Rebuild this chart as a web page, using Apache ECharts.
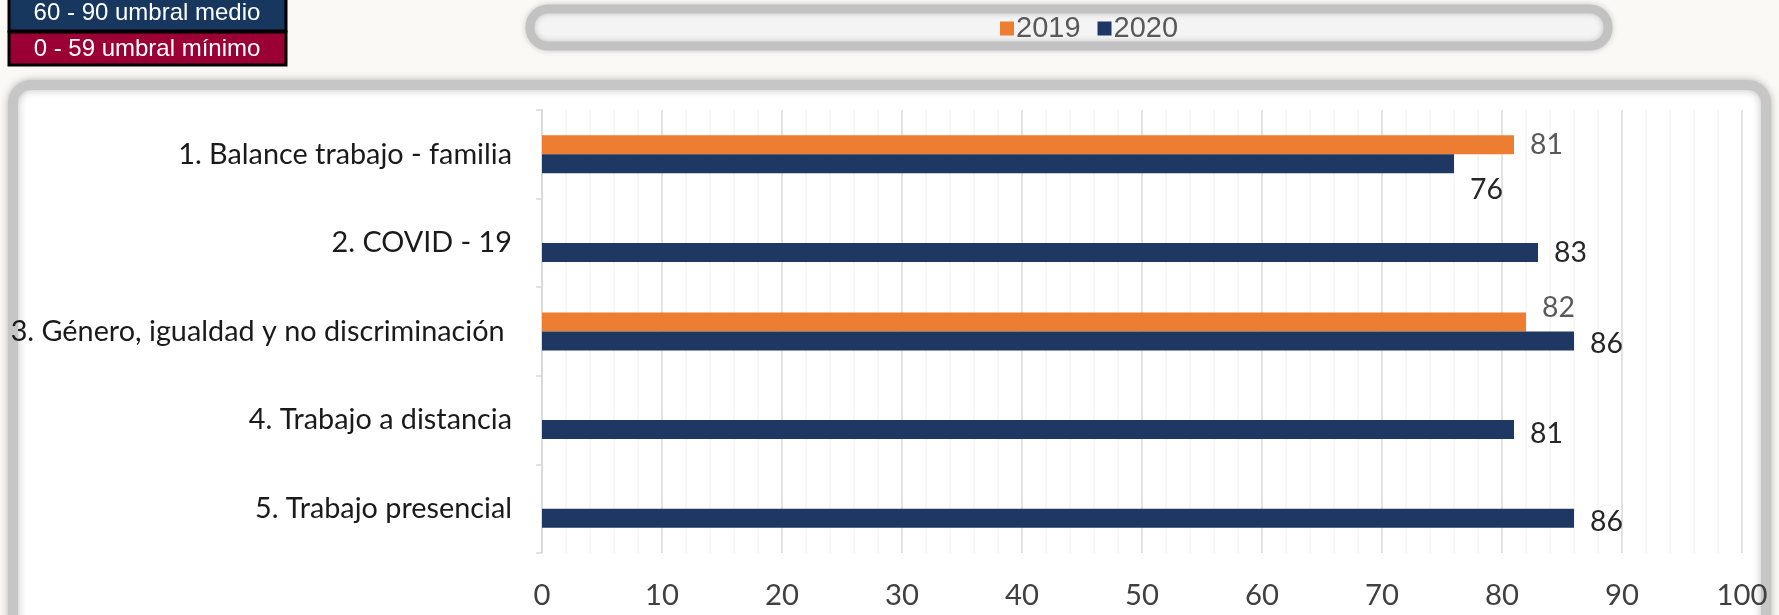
<!DOCTYPE html>
<html>
<head>
<meta charset="utf-8">
<script src="https://cdn.jsdelivr.net/npm/echarts@6/dist/echarts.min.js"></script>
<style>
  html, body { margin: 0; padding: 0; background: #fbf9f5; }
  #chart { width: 1779px; height: 615px; }
</style>
</head>
<body>
<div id="chart"></div>
<script>
// ---- data ----
const categories = [
  '1. Balance trabajo - familia',
  '2. COVID - 19',
  '3. Género, igualdad y no discriminación ',
  '4. Trabajo a distancia',
  '5. Trabajo presencial'
];
const seriesNames = ['2019', '2020'];
const values2019 = [81, null, 82, null, null];
const values2020 = [76, 83, 86, 81, 86];
const xTicks = [0, 10, 20, 30, 40, 50, 60, 70, 80, 90, 100];
const thresholdTexts = ['60 - 90 umbral medio', '0 - 59 umbral mínimo'];

// ---- label placement (style only) ----
const offsets2019 = [[0, 0], null, [0, -14], null, null];
const offsets2020 = [[0, 26], [0, 0], [0, 3], [0, 4], [0, 4]];

const ORANGE = '#ED7D31';
const NAVY = '#1F3763';
const FAM = "Lato, 'Liberation Sans', sans-serif";

// size a font so that a sample string reaches the width seen in the picture
const _c = document.createElement('canvas').getContext('2d');
function fitSize(sample, family, targetW) {
  _c.font = '100px ' + family;
  const w = _c.measureText(sample).width;
  return Math.round(100 * targetW / w * 10) / 10;
}
const catSize = fitSize('1. Balance trabajo - familia', FAM, 334);
const valSize = fitSize('86', FAM, 33);
const tickSize = fitSize('10', FAM, 34);

function build(vals, offs) {
  return vals.map((v, i) => {
    if (v === null) return null;
    return { value: v, label: { offset: offs[i] || [0, 0] } };
  });
}

const chart = echarts.init(document.getElementById('chart'));
chart.setOption({
  animation: false,
  backgroundColor: 'transparent',
  graphic: [
    {
      type: 'rect', z: -10, silent: true,
      shape: { x: 13, y: 85, width: 1753, height: 580, r: 18 },
      style: { fill: '#ffffff', stroke: '#c6c6c6', lineWidth: 10,
               shadowBlur: 8, shadowColor: 'rgba(0,0,0,0.25)' }
    },
    {
      type: 'rect', z: -10, silent: true,
      shape: { x: 530, y: 9, width: 1078, height: 37, r: 18 },
      style: { fill: '#f4f4f4', stroke: '#c2c2c2', lineWidth: 9,
               shadowBlur: 6, shadowColor: 'rgba(0,0,0,0.2)' }
    },
    {
      type: 'rect', z: 50, silent: true,
      shape: { x: 9, y: -4, width: 277, height: 35 },
      style: { fill: '#17375E', stroke: '#000000', lineWidth: 3 }
    },
    {
      type: 'rect', z: 50, silent: true,
      shape: { x: 9, y: 32, width: 277, height: 33 },
      style: { fill: '#9B0034', stroke: '#000000', lineWidth: 3 }
    },
    {
      type: 'text', z: 60, silent: true, x: 147, y: 13,
      style: { text: thresholdTexts[0], fill: '#ffffff', align: 'center', verticalAlign: 'middle',
               font: "24px 'Liberation Sans', Arial, sans-serif" }
    },
    {
      type: 'text', z: 60, silent: true, x: 147, y: 49,
      style: { text: thresholdTexts[1], fill: '#ffffff', align: 'center', verticalAlign: 'middle',
               font: "24px 'Liberation Sans', Arial, sans-serif" }
    }
  ],
  legend: {
    data: seriesNames,
    left: 995,
    top: 9,
    itemWidth: 14,
    itemHeight: 14,
    itemGap: 17,
    icon: 'rect',
    textStyle: { fontFamily: "'Liberation Sans', Arial, sans-serif", fontSize: 29, color: '#595959', padding: [0, 0, 0, -3] }
  },
  grid: { left: 542, right: 37, top: 110, bottom: 62, containLabel: false, outerBoundsMode: 'none' },
  xAxis: {
    type: 'value',
    min: 0, max: 100, interval: 10,
    axisLine: { show: false },
    axisTick: { show: false },
    axisLabel: {
      margin: 28,
      fontFamily: FAM, fontSize: tickSize, color: '#404040',
      formatter: (v) => xTicks.includes(v) ? String(v) : ''
    },
    splitLine: { show: true, lineStyle: { color: '#d9d9d9', width: 1.5 } },
    minorTick: { show: false, splitNumber: 5 },
    minorSplitLine: { show: true, lineStyle: { color: '#f4f4f4', width: 1.5 } }
  },
  yAxis: {
    type: 'category',
    data: categories,
    inverse: true,
    axisLine: { show: true, lineStyle: { color: '#d9d9d9', width: 1.5 } },
    axisTick: { show: true, length: 6, lineStyle: { color: '#d9d9d9', width: 1.5 } },
    axisLabel: { margin: 30, fontFamily: FAM, fontSize: catSize, color: '#1a1a1a' },
    splitLine: { show: false }
  },
  series: [
    {
      name: seriesNames[0], type: 'bar',
      data: build(values2019, offsets2019),
      barWidth: 19, barGap: '0%',
      itemStyle: { color: ORANGE },
      label: { show: true, position: 'right', distance: 16,
               fontFamily: FAM, fontSize: valSize, color: '#595959' }
    },
    {
      name: seriesNames[1], type: 'bar',
      data: build(values2020, offsets2020),
      barWidth: 19, barGap: '0%',
      itemStyle: { color: NAVY },
      label: { show: true, position: 'right', distance: 16,
               fontFamily: FAM, fontSize: valSize, color: '#262626' }
    }
  ]
});
</script>
</body>
</html>
